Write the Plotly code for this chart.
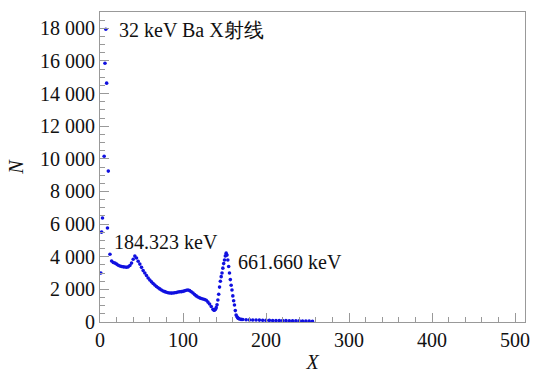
import plotly.graph_objects as go

# Early channels (scattered points near the Ba X-ray region)
early_x = [1, 2, 3, 5, 6, 7, 8, 9, 10]
early_n = [3000, 5510, 6370, 10160, 15860, 17940, 14640, 5760, 9250]

# Main spectrum body
curve_x = [12, 14, 16, 18, 20, 22, 24, 26, 28, 30, 32, 34, 36, 38, 40, 42, 44, 46, 48, 50,
           52, 54, 56, 58, 60, 62, 64, 66, 68, 70, 72, 74, 76, 78, 80, 82, 84, 86, 88, 90,
           92, 94, 96, 98, 100, 102, 104, 106, 108, 110, 112, 114, 116, 118, 120, 122, 124,
           126, 128, 130, 132, 134, 136, 137, 138, 139, 140, 141, 142, 143, 144, 145, 146,
           147, 148, 149, 150, 151, 152, 153, 154, 155, 156, 157, 158, 159, 160, 161, 162,
           163, 164, 165, 166, 167, 168, 170]
curve_n = [4150, 3740, 3650, 3610, 3550, 3480, 3430, 3400, 3380, 3370, 3360, 3380, 3460, 3610,
           3850, 4040, 3920, 3720, 3550, 3350, 3150, 3000, 2850, 2700, 2570, 2460, 2360, 2270,
           2180, 2100, 2030, 1960, 1900, 1860, 1820, 1790, 1780, 1770, 1780, 1790, 1810, 1840,
           1850, 1860, 1880, 1910, 1950, 1960, 1920, 1850, 1780, 1680, 1600, 1530, 1480, 1440,
           1410, 1380, 1330, 1220, 1100, 950, 780, 730, 720, 780, 880, 1050, 1350, 1700, 2140,
           2500, 2780, 3000, 3300, 3580, 3800, 4050, 4220, 4100, 3800, 3400, 3000, 2600, 2250,
           1960, 1600, 1300, 1040, 700, 430, 320, 250, 210, 180, 160]

# Flat tail
tail_x = [172, 176, 180, 184, 188, 192, 196, 200, 204, 208, 212, 216, 220, 224, 228, 232,
          236, 240, 244, 248, 252, 256]
tail_n = [150, 140, 130, 125, 120, 115, 110, 105, 100, 95, 92, 90, 86, 82, 78, 74, 70, 66,
          62, 58, 54, 50]

x_vals = early_x + curve_x + tail_x
n_vals = early_n + curve_n + tail_n

labels = ["32 keV Ba X射线", "184.323 keV", "661.660 keV"]
label_x = [20, 14, 164]
label_n = [17900, 4900, 3680]

FONT = "Liberation Serif"
TXT = "#111111"

fig = go.Figure()
fig.add_trace(go.Scatter(
    x=x_vals, y=n_vals, mode="markers",
    marker=dict(color="#1010e0", size=3.6),
    showlegend=False,
))

for t, lx, ly in zip(labels, label_x, label_n):
    fig.add_annotation(x=lx, y=ly, text=t, showarrow=False, xanchor="left", yanchor="middle",
                       font=dict(family=FONT, size=20, color=TXT))

fig.update_xaxes(range=[0, 512], dtick=100, tick0=0,
                 showline=True, linecolor="#999", linewidth=1.2, mirror=True,
                 ticks="inside", tickcolor="#999", ticklen=9, tickwidth=1.2,
                 showgrid=False, zeroline=False, automargin=False,
                 tickfont=dict(family=FONT, size=20, color=TXT),
                 minor=dict(dtick=20, ticks="inside", ticklen=5, tickcolor="#999", showgrid=False),
                 title=dict(text="<i>X</i>", font=dict(family=FONT, size=20, color=TXT), standoff=4))
fig.update_yaxes(range=[0, 19000], dtick=2000, tick0=0, tickformat=",d",
                 showline=True, linecolor="#999", linewidth=1.2, mirror=True,
                 ticks="inside", tickcolor="#999", ticklen=9, tickwidth=1.2,
                 showgrid=False, zeroline=False, automargin=False,
                 tickfont=dict(family=FONT, size=20, color=TXT),
                 minor=dict(dtick=500, ticks="inside", ticklen=5, tickcolor="#999", showgrid=False),
                 title=dict(text="<i>N</i>", font=dict(family=FONT, size=20, color=TXT), standoff=10))

fig.update_layout(
    width=533, height=376,
    margin=dict(l=100, r=8, t=12, b=54),
    plot_bgcolor="white", paper_bgcolor="white",
    separators=". ",
)

css_js = (
    "var s=document.createElement('style');"
    "s.textContent=\".main-svg text{font-family:'Liberation Serif',serif !important;}\";"
    "document.head.appendChild(s);"
    "document.body.style.margin='0';"
)

fig.write_html("out.html", config={"displayModeBar": False}, post_script=css_js)
